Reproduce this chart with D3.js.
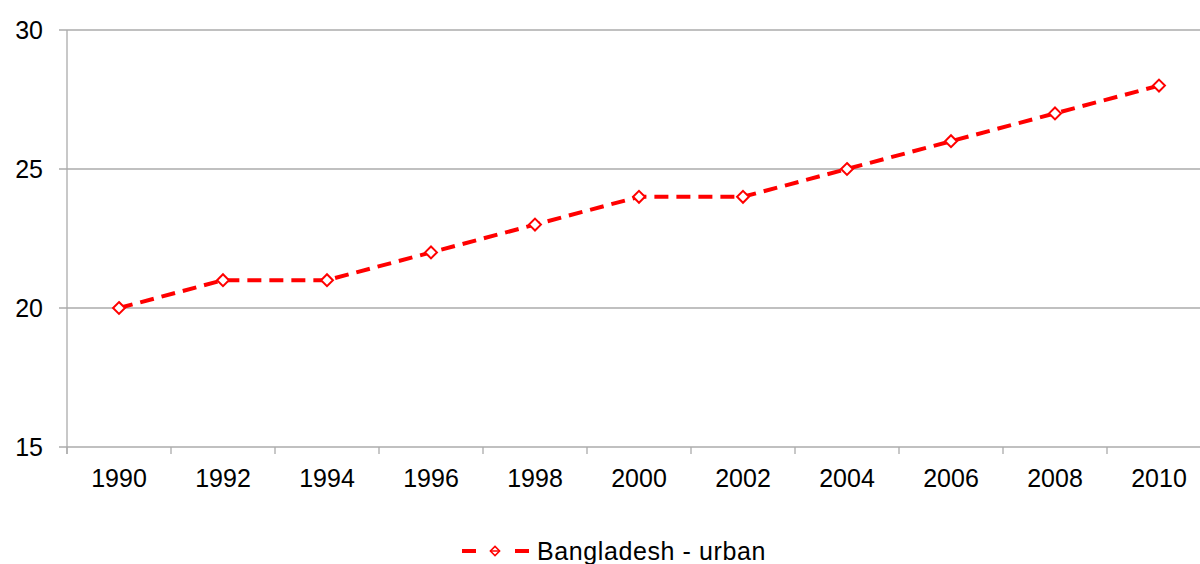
<!DOCTYPE html>
<html>
<head>
<meta charset="utf-8">
<script src="https://cdn.jsdelivr.net/npm/d3@7"></script>
<style>
  body { margin: 0; background: #fff; }
  svg text { font-family: "Liberation Sans", Arial, sans-serif; fill: #000; }
</style>
</head>
<body>
<svg></svg>
<script>
var years = ["1990","1992","1994","1996","1998","2000","2002","2004","2006","2008","2010"];
var urban = [20, 21, 21, 22, 23, 24, 24, 25, 26, 27, 28];
var yTicks = [15, 20, 25, 30];
var seriesName = "Bangladesh - urban";

var width = 1200, height = 564;
var margin = {left: 67, top: 30, bottom: 117};
var bandW = 104;

var svg = d3.select("svg")
  .attr("width", width)
  .attr("height", height);

var x = d3.scaleBand()
  .domain(years)
  .range([margin.left, margin.left + years.length * bandW]);

var y = d3.scaleLinear()
  .domain([15, 30])
  .range([height - margin.bottom, margin.top]);

// gridlines
svg.append("g")
  .selectAll("line")
  .data(yTicks)
  .enter().append("line")
  .attr("x1", margin.left - 8)
  .attr("x2", width)
  .attr("y1", function(d){ return y(d); })
  .attr("y2", function(d){ return y(d); })
  .attr("stroke", "#ababab")
  .attr("stroke-width", 1.3);

// y axis line
svg.append("line")
  .attr("x1", margin.left).attr("x2", margin.left)
  .attr("y1", y(30)).attr("y2", y(15) + 7)
  .attr("stroke", "#ababab")
  .attr("stroke-width", 1.3);

// x tick marks at band boundaries
var bounds = years.map(function(d){ return x(d); });
svg.append("g")
  .selectAll("line")
  .data(bounds)
  .enter().append("line")
  .attr("x1", function(d){ return d; })
  .attr("x2", function(d){ return d; })
  .attr("y1", y(15))
  .attr("y2", y(15) + 7)
  .attr("stroke", "#ababab")
  .attr("stroke-width", 1.3);

// y labels
svg.append("g")
  .selectAll("text")
  .data(yTicks)
  .enter().append("text")
  .attr("x", 43)
  .attr("y", function(d){ return y(d) + 9; })
  .attr("text-anchor", "end")
  .attr("font-size", "25px")
  .text(function(d){ return d; });

// x labels
svg.append("g")
  .selectAll("text")
  .data(years)
  .enter().append("text")
  .attr("x", function(d){ return x(d) + x.bandwidth() / 2; })
  .attr("y", 487)
  .attr("text-anchor", "middle")
  .attr("font-size", "25px")
  .text(function(d){ return d; });

var line = d3.line()
  .x(function(d, i){ return x(years[i]) + x.bandwidth() / 2; })
  .y(function(d){ return y(d); });

svg.append("path")
  .attr("d", line(urban))
  .attr("fill", "none")
  .attr("stroke", "#ff0000")
  .attr("stroke-width", 4)
  .attr("stroke-dasharray", "14,8");

var diamond = d3.symbol().type(d3.symbolDiamond2).size(90);

svg.append("g")
  .selectAll("path")
  .data(urban)
  .enter().append("path")
  .attr("d", diamond)
  .attr("transform", function(d, i){
    return "translate(" + (x(years[i]) + x.bandwidth() / 2) + "," + y(d) + ")";
  })
  .attr("fill", "#fff")
  .attr("stroke", "#ff0000")
  .attr("stroke-width", 2);

// legend
var leg = svg.append("g").attr("transform", "translate(0,551)");
[[462, 476], [515, 529]].forEach(function(seg){
  leg.append("line")
    .attr("x1", seg[0]).attr("x2", seg[1])
    .attr("y1", 0).attr("y2", 0)
    .attr("stroke", "#ff0000")
    .attr("stroke-width", 4);
});
leg.append("path")
  .attr("d", d3.symbol().type(d3.symbolDiamond2).size(55))
  .attr("transform", "translate(495,0)")
  .attr("fill", "#fff")
  .attr("stroke", "#ff0000")
  .attr("stroke-width", 1.5);
leg.append("line")
  .attr("x1", 490).attr("x2", 500)
  .attr("y1", 0).attr("y2", 0)
  .attr("stroke", "#ff0000")
  .attr("stroke-width", 1.5);
leg.append("text")
  .attr("x", 537)
  .attr("y", 9)
  .attr("font-size", "25px")
  .attr("letter-spacing", "0.6px")
  .text(seriesName);
</script>
</body>
</html>
